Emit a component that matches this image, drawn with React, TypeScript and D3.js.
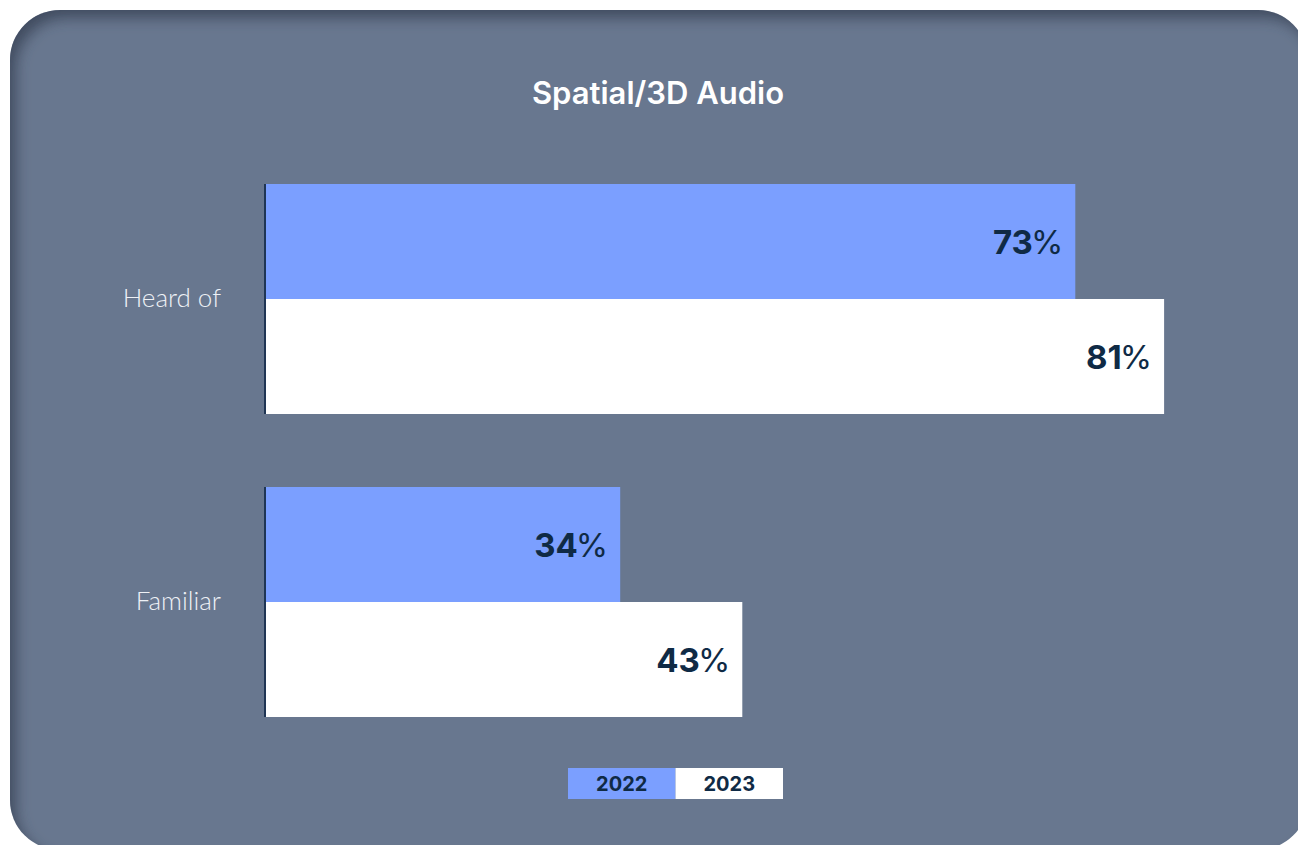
import React, { useEffect, useRef } from "react";
import * as d3 from "d3";

// data
const categories = ["Heard of", "Familiar"];
const years = ["2022", "2023"];
const values2022 = [73, 32];
const values2023 = [81, 43];
const labels2022 = ["73%", "34%"];
const labels2023 = ["81%", "43%"];
const title = "Spatial/3D Audio";

const W = 1298;
const H = 845;
const BG = "#68778f";
const BLUE = "#7b9fff";
const NAVY = "#0f2a45";

export default function App() {
  const ref = useRef<SVGSVGElement | null>(null);

  useEffect(() => {
    const svg = d3.select(ref.current);
    svg.selectAll("*").remove();

    const defs = svg.append("defs");
    const f = defs.append("filter").attr("id", "inset").attr("x", "-5%").attr("y", "-5%").attr("width", "110%").attr("height", "110%");
    f.append("feOffset").attr("in", "SourceAlpha").attr("dx", 7).attr("dy", 9).attr("result", "off");
    f.append("feGaussianBlur").attr("in", "off").attr("stdDeviation", 7).attr("result", "blur");
    f.append("feComposite").attr("operator", "out").attr("in", "SourceGraphic").attr("in2", "blur").attr("result", "inverse");
    f.append("feFlood").attr("flood-color", "#2a3448").attr("flood-opacity", 0.75).attr("result", "color");
    f.append("feComposite").attr("operator", "in").attr("in", "color").attr("in2", "inverse").attr("result", "shadow");
    f.append("feComposite").attr("operator", "over").attr("in", "shadow").attr("in2", "SourceGraphic");

    // card
    svg.append("rect")
      .attr("x", 10).attr("y", 10)
      .attr("width", 1298).attr("height", 840)
      .attr("rx", 50).attr("ry", 50)
      .attr("fill", BG)
      .attr("filter", "url(#inset)");

    svg.append("text")
      .attr("x", 658).attr("y", 104)
      .attr("text-anchor", "middle")
      .attr("font-family", "Inter, 'Open Sans', sans-serif")
      .attr("font-weight", 600)
      .attr("font-size", 31)
      .attr("fill", "#ffffff")
      .text(title);

    const x0 = 266;
    const x = d3.scaleLinear().domain([0, 100]).range([x0, x0 + 1110]);
    const y = d3.scaleBand<string>().domain(categories).range([184, 717]).paddingInner(73 / 303);
    const yy = d3.scaleBand<string>().domain(years).range([0, y.bandwidth()]);

    const rows = categories.map((c, i) => ({
      cat: c,
      bars: [
        { year: "2022", v: values2022[i], label: labels2022[i], color: BLUE },
        { year: "2023", v: values2023[i], label: labels2023[i], color: "#ffffff" },
      ],
    }));

    const g = svg.append("g");
    const grp = g.selectAll("g.grp").data(rows).enter().append("g")
      .attr("class", "grp")
      .attr("transform", (d) => "translate(0," + y(d.cat) + ")");

    grp.selectAll("rect").data((d) => d.bars).enter().append("rect")
      .attr("x", x(0))
      .attr("y", (d) => yy(d.year)!)
      .attr("width", (d) => x(d.v) - x(0) - 1)
      .attr("height", yy.bandwidth())
      .attr("fill", (d) => d.color);

    const lbl = grp.selectAll("text.val").data((d) => d.bars).enter().append("text")
      .attr("class", "val")
      .attr("x", (d) => x(d.v) - 13)
      .attr("y", (d) => yy(d.year)! + yy.bandwidth() / 2 + 12)
      .attr("text-anchor", "end")
      .attr("font-family", "Inter, 'Open Sans', sans-serif")
      .attr("font-size", 33)
      .attr("fill", NAVY);
    lbl.append("tspan").attr("font-weight", 700).text((d) => d.label.replace("%", ""));
    lbl.append("tspan").attr("font-weight", 400).attr("dx", -2).text("%");

    // axis line, only along the bars
    grp.append("line")
      .attr("x1", x0 - 1).attr("x2", x0 - 1)
      .attr("y1", 0).attr("y2", y.bandwidth())
      .attr("stroke", "#1f3554").attr("stroke-width", 2);

    grp.append("text")
      .attr("x", 221)
      .attr("y", y.bandwidth() / 2 + 8)
      .attr("text-anchor", "end")
      .attr("font-family", "Lato, sans-serif")
      .attr("font-weight", 300)
      .attr("font-size", 26)
      .attr("fill", "#eef1f6")
      .text((d) => d.cat);

    // legend
    const lx = d3.scaleBand<string>().domain(years).range([568, 783]);
    const leg = svg.append("g").selectAll("g").data(years).enter().append("g");
    leg.append("rect")
      .attr("x", (d) => lx(d)!).attr("y", 768)
      .attr("width", lx.bandwidth()).attr("height", 31)
      .attr("fill", (d, i) => (i === 0 ? BLUE : "#ffffff"));
    leg.append("text")
      .attr("x", (d) => lx(d)! + lx.bandwidth() / 2)
      .attr("y", 791)
      .attr("text-anchor", "middle")
      .attr("font-family", "Inter, 'Open Sans', sans-serif")
      .attr("font-weight", 700)
      .attr("font-size", 20)
      .attr("fill", NAVY)
      .text((d) => d);
  }, []);

  return (
    <svg ref={ref} width={W} height={H}
      style={{ position: "absolute", left: 0, top: 0, background: "#ffffff" }} />
  );
}
